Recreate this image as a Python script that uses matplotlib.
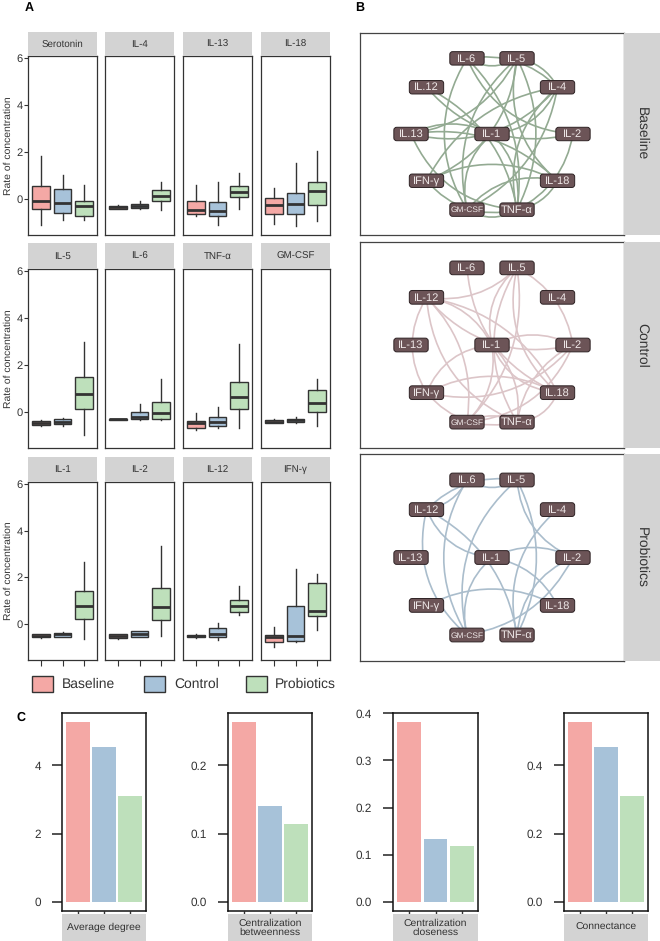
import numpy as np
import matplotlib
matplotlib.use('Agg')
import matplotlib.pyplot as plt
from matplotlib.patches import Rectangle, FancyBboxPatch, FancyArrowPatch

plt.rcParams['font.family'] = ['Liberation Sans', 'DejaVu Sans']
plt.rcParams['text.hinting'] = 'no_hinting'

W, H = 660, 941

groups = ['Baseline', 'Control', 'Probiotics']
group_colors = ['#F4A8A5', '#A7C2D9', '#BEE0BB']

cytokines = ['Serotonin', 'IL-4', 'IL-13', 'IL-18',
             'IL-5', 'IL-6', 'TNF-α', 'GM-CSF',
             'IL-1', 'IL-2', 'IL-12', 'IFN-γ']

# whisker low, q1, median, q3, whisker high
baseline_stats = [
    (-1.11, -0.44, -0.11, 0.53, 1.83),
    (-0.45, -0.42, -0.36, -0.30, -0.28),
    (-0.73, -0.64, -0.50, -0.09, 0.60),
    (-1.07, -0.64, -0.28, 0.01, 0.46),
    (-0.60, -0.55, -0.48, -0.39, -0.35),
    (-0.37, -0.36, -0.33, -0.30, -0.29),
    (-0.76, -0.69, -0.47, -0.40, -0.04),
    (-0.50, -0.47, -0.42, -0.36, -0.33),
    (-0.60, -0.58, -0.50, -0.43, -0.42),
    (-0.63, -0.62, -0.52, -0.43, -0.42),
    (-0.60, -0.58, -0.52, -0.46, -0.45),
    (-0.98, -0.79, -0.58, -0.46, -0.12),
]
control_stats = [
    (-0.90, -0.61, -0.18, 0.43, 1.02),
    (-0.42, -0.40, -0.30, -0.21, -0.11),
    (-1.11, -0.75, -0.54, -0.13, 0.70),
    (-1.18, -0.64, -0.21, 0.24, 1.52),
    (-0.60, -0.53, -0.45, -0.29, -0.27),
    (-0.36, -0.33, -0.22, 0.00, 0.33),
    (-0.68, -0.62, -0.43, -0.24, 0.19),
    (-0.50, -0.43, -0.36, -0.29, -0.24),
    (-0.57, -0.55, -0.45, -0.37, -0.33),
    (-0.57, -0.55, -0.45, -0.32, -0.30),
    (-0.69, -0.55, -0.43, -0.19, 0.06),
    (-0.78, -0.75, -0.53, 0.75, 2.35),
]
probiotics_stats = [
    (-0.90, -0.73, -0.33, -0.11, 0.60),
    (-0.50, -0.09, 0.10, 0.37, 0.70),
    (-0.44, 0.06, 0.27, 0.53, 1.10),
    (-0.97, -0.26, 0.31, 0.70, 2.05),
    (-1.00, 0.13, 0.76, 1.47, 2.99),
    (-0.36, -0.30, -0.07, 0.42, 1.41),
    (-0.68, 0.13, 0.65, 1.29, 2.88),
    (-0.60, 0.00, 0.36, 0.94, 1.40),
    (-0.65, 0.22, 0.78, 1.41, 2.66),
    (-0.50, 0.17, 0.72, 1.54, 3.34),
    (0.40, 0.52, 0.78, 1.04, 1.65),
    (-0.24, 0.35, 0.55, 1.76, 2.16),
]

# network nodes: ring order (counter-clockwise from the right) + hub
ring_nodes = ['IL-2', 'IL-4', 'IL-5', 'IL-6', 'IL-12', 'IL-13',
              'IFN-γ', 'GM-CSF', 'TNF-α', 'IL-18']
hub_node = 'IL-1'
baseline_labels = {'IL-12': 'IL.12', 'IL-13': 'IL.13'}
control_labels = {'IL-5': 'IL.5', 'IL-18': 'IL.18'}
probiotics_labels = {'IL-6': 'IL.6'}

baseline_edges = [
    ('IL-6', 'IL-5'), ('IL-6', 'IL-4'), ('IL-6', 'IL-2'), ('IL-6', 'TNF-α'),
    ('IL-6', 'GM-CSF'), ('IL-5', 'IL-13'), ('IL-5', 'GM-CSF'), ('IL-5', 'TNF-α'),
    ('IL-5', 'IL-18'), ('IL-5', 'IL-4'), ('IL-12', 'IL-2'), ('IL-12', 'TNF-α'),
    ('IL-13', 'IL-4'), ('IL-13', 'IL-1'), ('IL-13', 'TNF-α'), ('IL-13', 'IL-18'),
    ('IL-1', 'GM-CSF'), ('IL-1', 'TNF-α'), ('IL-1', 'IL-4'), ('IFN-γ', 'IL-18'),
    ('IFN-γ', 'TNF-α'), ('IFN-γ', 'IL-4'), ('IFN-γ', 'IL-5'), ('IL-4', 'GM-CSF'),
    ('IL-4', 'TNF-α'), ('IL-2', 'TNF-α'), ('IL-18', 'GM-CSF'), ('IL-18', 'TNF-α'),
    ('GM-CSF', 'TNF-α'),
]
control_edges = [
    ('IL-6', 'IL-18'), ('IL-5', 'IL-12'), ('IL-5', 'IL-1'), ('IL-5', 'GM-CSF'),
    ('IL-5', 'TNF-α'), ('IL-5', 'IL-2'), ('IL-5', 'IL-18'), ('IL-12', 'IL-1'),
    ('IL-12', 'IL-2'), ('IL-12', 'IL-18'), ('IL-12', 'IFN-γ'), ('IL-12', 'GM-CSF'),
    ('IL-12', 'TNF-α'), ('IL-1', 'IL-2'), ('IL-1', 'IFN-γ'), ('IL-1', 'TNF-α'),
    ('IL-1', 'IL-18'), ('IL-1', 'GM-CSF'), ('IFN-γ', 'IL-2'), ('IFN-γ', 'IL-18'),
    ('IFN-γ', 'TNF-α'), ('GM-CSF', 'TNF-α'), ('GM-CSF', 'IL-2'), ('TNF-α', 'IL-2'),
    ('TNF-α', 'IL-18'),
]
probiotics_edges = [
    ('IL-6', 'IL-5'), ('IL-6', 'IL-12'), ('IL-6', 'GM-CSF'), ('IL-12', 'IL-5'),
    ('IL-12', 'IL-1'), ('IL-12', 'TNF-α'), ('IL-5', 'GM-CSF'), ('IL-5', 'TNF-α'),
    ('IL-5', 'IL-2'), ('IL-1', 'IL-2'), ('IL-1', 'GM-CSF'), ('IL-1', 'IL-18'),
    ('IL-4', 'TNF-α'), ('IL-2', 'GM-CSF'), ('IL-2', 'TNF-α'), ('IFN-γ', 'IL-18'),
    ('IL-12', 'GM-CSF'),
]
edge_colors = ['#93AA92', '#DCC5C8', '#AABDCC']

# panel C
metric_names = ['Average degree', 'Centralization\nbetweenness',
                'Centralization\ncloseness', 'Connectance']
average_degree = [5.27, 4.55, 3.09]
centralization_betweenness = [0.263, 0.140, 0.114]
centralization_closeness = [0.381, 0.133, 0.119]
connectance = [0.527, 0.455, 0.309]
metric_ticks = [[0, 2, 4], [0.0, 0.1, 0.2], [0.0, 0.1, 0.2, 0.3, 0.4], [0.0, 0.2, 0.4]]


def px(x0, y0, x1, y1):
    return [x0 / W, 1 - y1 / H, (x1 - x0) / W, (y1 - y0) / H]


fig = plt.figure(figsize=(W / 100, H / 100), dpi=100)
dark = '#333333'
strip_grey = '#D3D3D3'

# ---------------- A: boxplots ----------------
col_x = [(28, 97), (105, 174), (183, 252), (261, 330)]
row_panel = [(56, 235), (269, 448), (482, 660)]
row_strip = [(32, 56), (243, 269), (457, 482)]

for i, name in enumerate(cytokines):
    r, c = divmod(i, 4)
    x0, x1 = col_x[c]
    ax = fig.add_axes(px(x0, row_panel[r][0], x1, row_panel[r][1]))
    st = fig.add_axes(px(x0, row_strip[r][0], x1, row_strip[r][1]))
    st.set_facecolor(strip_grey)
    st.set_xticks([]); st.set_yticks([])
    for s in st.spines.values():
        s.set_visible(False)
    st.text(0.5, 0.5, name, ha='center', va='center', fontsize=7, color=dark)

    stats = []
    for g in (baseline_stats, control_stats, probiotics_stats):
        lo, q1, med, q3, hi = g[i]
        stats.append(dict(whislo=lo, q1=q1, med=med, q3=q3, whishi=hi, fliers=[]))
    bp = ax.bxp(stats, positions=[1, 2, 3], widths=0.8, patch_artist=True,
                showcaps=False, showfliers=False,
                boxprops=dict(edgecolor=dark, linewidth=1.0),
                whiskerprops=dict(color=dark, linewidth=1.0),
                medianprops=dict(color=dark, linewidth=2.0))
    for patch, col in zip(bp['boxes'], group_colors):
        patch.set_facecolor(col)
    ax.set_xlim(0.4, 3.6)
    ax.set_ylim(-1.55, 6.1)
    for s in ax.spines.values():
        s.set_color(dark)
        s.set_linewidth(0.9)
    ax.set_yticks([0, 2, 4, 6])
    if c == 0:
        ax.tick_params(axis='y', length=3, labelsize=8, colors=dark, pad=1)
        ax.set_ylabel('Rate of concentration', fontsize=7.5, color=dark, labelpad=2)
    else:
        ax.tick_params(axis='y', left=False, labelleft=False)
    ax.set_xticks([1, 2, 3])
    ax.set_xticklabels([])
    if r == 2:
        ax.tick_params(axis='x', length=4, colors=dark)
    else:
        ax.tick_params(axis='x', bottom=False)

# legend
lax = fig.add_axes(px(20, 670, 340, 698))
lax.set_xlim(0, 320); lax.set_ylim(28, 0)
lax.axis('off')
for gx, tx, g, col in zip([12, 124, 226], [42, 154, 255], groups, group_colors):
    lax.add_patch(Rectangle((gx, 6), 21, 16, facecolor=col, edgecolor=dark, lw=1.0))
    lax.text(tx, 14, g, ha='left', va='center', fontsize=10, color=dark)

# ---------------- B: networks ----------------
angles = np.deg2rad(np.arange(len(ring_nodes)) * 36.0)
pos = {n: (np.cos(a), np.sin(a)) for n, a in zip(ring_nodes, angles)}
pos[hub_node] = (0.0, 0.0)

net_rows = [(33, 235), (242, 448), (454, 661)]
net_edges = [baseline_edges, control_edges, probiotics_edges]
net_labels = [baseline_labels, control_labels, probiotics_labels]

for k, g in enumerate(groups):
    y0, y1 = net_rows[k]
    ax = fig.add_axes(px(360, y0, 624, y1))
    ax.set_xlim(-1.63, 1.63)
    ax.set_ylim(-1.27, 1.27)
    ax.set_xticks([]); ax.set_yticks([])
    for s in ax.spines.values():
        s.set_color('#444444')
        s.set_linewidth(0.9)
    for j, (a, b) in enumerate(net_edges[k]):
        rad = 0.3 if j % 2 == 0 else -0.25
        ax.add_patch(FancyArrowPatch(pos[a], pos[b], arrowstyle='-',
                                     connectionstyle=f'arc3,rad={rad}',
                                     color=edge_colors[k], lw=1.2,
                                     shrinkA=0, shrinkB=0, zorder=1))
    for n, (x, y) in pos.items():
        bw, bh = 0.40, 0.145
        ax.add_patch(FancyBboxPatch((x - bw / 2, y - bh / 2), bw, bh,
                                    boxstyle='round,pad=0.012,rounding_size=0.035',
                                    facecolor='#6C5457', edgecolor='#2E2224',
                                    lw=0.7, zorder=3))
        lab = net_labels[k].get(n, n)
        ax.text(x, y - 0.005, lab, ha='center', va='center', color='#EFE8E8',
                fontsize=6.0 if n == 'GM-CSF' else 8.0, zorder=4)
    st = fig.add_axes(px(624, y0, 660, y1))
    st.set_facecolor(strip_grey)
    st.set_xticks([]); st.set_yticks([])
    for s in st.spines.values():
        s.set_visible(False)
    st.text(0.5, 0.5, g, rotation=-90, ha='center', va='center', fontsize=10, color=dark)

# ---------------- C: bar charts ----------------
metric_values = [average_degree, centralization_betweenness,
                 centralization_closeness, connectance]
bar_x = [(62, 146), (228, 312), (393, 478), (564, 648)]
for m, (name, vals, ticks) in enumerate(zip(metric_names, metric_values, metric_ticks)):
    x0, x1 = bar_x[m]
    ax = fig.add_axes(px(x0, 713, x1, 911))
    ax.bar([1, 2, 3], vals, width=0.9, color=group_colors)
    ax.set_xlim(0.4, 3.6)
    top = max(vals)
    ax.set_ylim(-0.05 * top, 1.05 * top)
    ax.set_yticks(ticks)
    if m == 0:
        ax.set_yticklabels([f'{t:d}' for t in ticks])
    else:
        ax.set_yticklabels([f'{t:.1f}' for t in ticks])
    ax.set_xticks([1, 2, 3])
    ax.set_xticklabels([])
    ax.tick_params(axis='y', length=7, width=1.2, labelsize=8.5, colors=dark, pad=8)
    ax.tick_params(axis='x', length=3, width=1.0, colors=dark)
    for s in ax.spines.values():
        s.set_color('#111111')
        s.set_linewidth(1.1)
    st = fig.add_axes(px(x0, 914, x1, 941))
    st.set_facecolor(strip_grey)
    st.set_xticks([]); st.set_yticks([])
    for s in st.spines.values():
        s.set_visible(False)
    st.text(0.5, 0.5, name, ha='center', va='center', fontsize=7.5, color=dark,
            linespacing=1.0)

fig.text(29 / W, 1 - 8 / H, 'A', fontsize=9, fontweight='bold', ha='center', va='center')
fig.text(360 / W, 1 - 8 / H, 'B', fontsize=9, fontweight='bold', ha='center', va='center')
fig.text(21 / W, 1 - 718 / H, 'C', fontsize=9, fontweight='bold', ha='center', va='center')

fig.savefig('out.png', dpi=100)
